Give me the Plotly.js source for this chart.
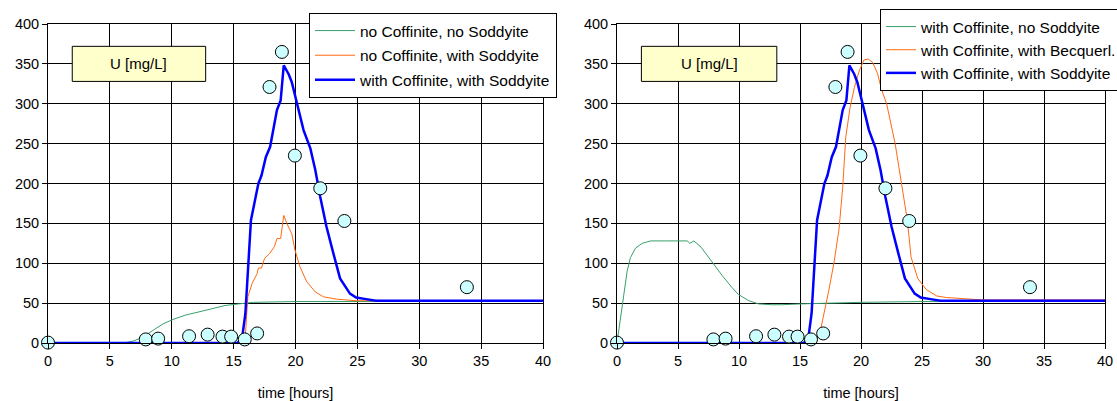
<!DOCTYPE html>
<html>
<head>
<meta charset="utf-8">
<script src="https://cdn.plot.ly/plotly-3.0.1.min.js"></script>
<style>html,body{margin:0;padding:0;background:#fff;}#chart{width:1117px;height:401px;}</style>
</head>
<body>
<div id="chart"></div>
<script>
// Observed data (circles)
const obsT = [0, 7.9, 8.9, 11.4, 12.9, 14.1, 14.8, 15.9, 16.9, 17.9, 18.9, 19.95, 22.0, 23.95, 33.85];
const obsU = [0.5, 4.5, 5.5, 8.5, 10.5, 8, 8, 4.5, 12, 321, 365, 235, 194, 153, 70];

// with Coffinite, with Soddyite (both panels)
const blueT = [0, 15.3, 15.5, 15.7, 15.95, 16.2, 16.4, 17.0, 17.25, 17.6, 17.95, 18.5, 18.8, 19.05, 19.45, 19.7, 20.1, 20.65, 21.2, 21.6, 22.0, 22.5, 23.05, 23.6, 24.4, 24.9, 25.7, 26.5, 28, 40];
const blueU = [0, 0, 3, 8, 37, 96, 154, 200, 210, 233, 246, 292, 304, 348, 337, 327, 300, 267, 244, 217, 183, 146, 113, 81, 62, 57, 55, 53, 53, 53];

// Left panel: no Coffinite, with Soddyite
const orangeLT = [0, 15.6, 15.95, 16.15, 16.5, 16.9, 17.0, 17.25, 17.5, 17.9, 18.3, 18.5, 18.8, 19.05, 19.3, 19.7, 19.95, 20.35, 20.9, 21.6, 22.25, 23.3, 24.9, 40];
const orangeLU = [0, 0, 10, 58, 75, 87, 94, 94, 106, 112, 121, 131, 131, 160, 150, 137, 117, 96, 77, 64, 58, 55, 53, 53];

// Left panel: no Coffinite, no Soddyite
const greenLT = [0, 6.1, 6.9, 7.7, 8.5, 9.3, 10.1, 11.1, 12.2, 13.3, 14.3, 15.4, 16.6, 20, 40];
const greenLU = [0, 0, 2.5, 7.6, 16, 24, 29.5, 35, 39, 43.5, 47, 49, 51, 52, 52];

// Right panel: with Coffinite, no Soddyite
const greenRT = [0, 0.41, 0.83, 1.1, 1.52, 2.07, 2.76, 3.87, 5.75, 5.97, 6.3, 6.9, 7.7, 8.6, 9.4, 9.94, 10.8, 11.6, 12.7, 13.5, 15, 20, 25, 40];
const greenRU = [0, 44, 90, 107, 119, 125, 128, 128, 128, 125, 128, 120, 103, 85, 70, 61, 53, 49, 48, 48, 49, 51, 52, 52];

// Right panel: with Coffinite, with Becquerl.
const orangeRT = [0, 16.3, 16.65, 16.95, 17.35, 17.8, 18.2, 18.5, 18.75, 19.1, 19.45, 19.85, 20.25, 20.6, 20.95, 21.35, 21.7, 22.1, 22.45, 22.8, 23.1, 23.4, 23.8, 24.1, 24.65, 25.35, 26.2, 27, 27.8, 30, 40];
const orangeRU = [0, 0, 14, 35, 65, 102, 143, 195, 258, 295, 320, 341, 355, 356, 352, 338, 317, 300, 275, 250, 221, 192, 154, 108, 81, 67, 59, 57, 56, 54, 54];

const namesLeft = ["no Coffinite, no Soddyite", "no Coffinite, with Soddyite", "with Coffinite, with Soddyite"];
const namesRight = ["with Coffinite, no Soddyite", "with Coffinite, with Becquerl.", "with Coffinite, with Soddyite"];
const boxLabel = "U [mg/L]";
const xTitle = "time [hours]";

const GREEN = '#36a06a', ORANGE = '#ff6a13', BLUE = '#0000ff';
const FONT = 'Liberation Sans, Arial, sans-serif';

function line(x, y, name, color, width, xa, ya, leg, grp) {
  return {x: x, y: y, name: name, type: 'scatter', mode: 'lines',
    line: {color: color, width: width}, xaxis: xa, yaxis: ya,
    legend: leg, legendgroup: grp, cliponaxis: true};
}
function obs(xa, ya) {
  return {x: obsT, y: obsU, type: 'scatter', mode: 'markers', showlegend: false,
    marker: {size: 13, color: '#ccffff', line: {color: '#000', width: 1}},
    xaxis: xa, yaxis: ya, cliponaxis: false};
}

const data = [
  line(greenLT, greenLU, namesLeft[0], GREEN, 1, 'x', 'y', 'legend', 'a1'),
  line(orangeLT, orangeLU, namesLeft[1], ORANGE, 1, 'x', 'y', 'legend', 'a2'),
  line(blueT, blueU, namesLeft[2], BLUE, 2.5, 'x', 'y', 'legend', 'a3'),
  obs('x', 'y'),
  line(greenRT, greenRU, namesRight[0], GREEN, 1, 'x2', 'y2', 'legend2', 'b1'),
  line(orangeRT, orangeRU, namesRight[1], ORANGE, 1, 'x2', 'y2', 'legend2', 'b2'),
  line(blueT, blueU, namesRight[2], BLUE, 2.5, 'x2', 'y2', 'legend2', 'b3'),
  obs('x2', 'y2')
];

function xax(domain, anchor) {
  return {domain: domain, anchor: anchor, range: [0, 40], dtick: 5, tick0: 0,
    showgrid: true, gridcolor: '#000', gridwidth: 1, zeroline: false,
    showline: true, linecolor: '#000', linewidth: 1, mirror: true,
    ticks: 'outside', ticklen: 5, tickcolor: '#000',
    tickfont: {family: FONT, size: 14.5, color: '#000'},
    title: {text: xTitle, font: {family: FONT, size: 14.5, color: '#000'}, standoff: 19},
    automargin: false, fixedrange: true};
}
function yax(anchor) {
  return {domain: [0, 1], anchor: anchor, range: [0, 400], dtick: 50, tick0: 0,
    showgrid: true, gridcolor: '#000', gridwidth: 1, zeroline: false,
    showline: true, linecolor: '#000', linewidth: 1, mirror: true,
    ticks: 'outside', ticklen: 5, tickcolor: '#000',
    tickfont: {family: FONT, size: 14.5, color: '#000'},
    automargin: false, fixedrange: true};
}

const W = 1117, ML = 48, MR = 12;
const PW = W - ML - MR;
const px = v => (v - ML) / PW;

const layout = {
  width: 1117, height: 401,
  margin: {l: ML, r: MR, t: 24, b: 58, autoexpand: false},
  paper_bgcolor: '#fff', plot_bgcolor: '#fff',
  font: {family: FONT, color: '#000'},
  xaxis: xax([0, px(543)], 'y'),
  yaxis: yax('x'),
  xaxis2: xax([px(617), 1], 'y2'),
  yaxis2: yax('x2'),
  legend: {x: px(309), y: 1.0345, xanchor: 'left', yanchor: 'top',
    bgcolor: '#fff', bordercolor: '#000', borderwidth: 1, itemwidth: 40,
    font: {family: FONT, size: 15.5, color: '#000'}, tracegroupgap: 1.5},
  legend2: {x: px(880), y: 1.047, xanchor: 'left', yanchor: 'top',
    bgcolor: '#fff', bordercolor: '#000', borderwidth: 1, itemwidth: 30,
    font: {family: FONT, size: 15.5, color: '#000'}, tracegroupgap: 0},
  shapes: [
    {type: 'rect', xref: 'x', yref: 'y', x0: 1.96, x1: 12.74, y0: 328, y1: 372,
      fillcolor: '#ffffcc', line: {color: '#000', width: 1}, layer: 'above'},
    {type: 'rect', xref: 'x2', yref: 'y2', x0: 2.0, x1: 13.1, y0: 328, y1: 372,
      fillcolor: '#ffffcc', line: {color: '#000', width: 1}, layer: 'above'}
  ],
  annotations: [
    {xref: 'x', yref: 'y', x: 7.35, y: 350, text: boxLabel, showarrow: false,
      font: {family: FONT, size: 15, color: '#000'}},
    {xref: 'x2', yref: 'y2', x: 7.55, y: 350, text: boxLabel, showarrow: false,
      font: {family: FONT, size: 15, color: '#000'}}
  ],
  showlegend: true
};

Plotly.newPlot('chart', data, layout, {displayModeBar: false, staticPlot: true});
</script>
</body>
</html>
